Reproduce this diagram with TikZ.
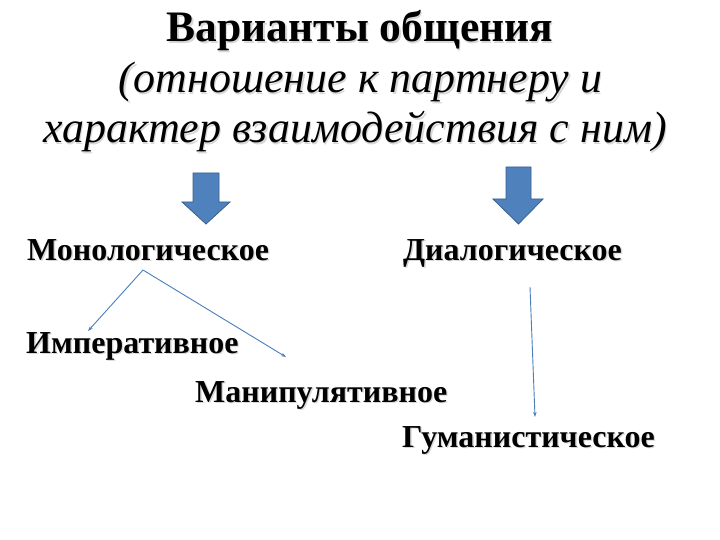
\documentclass[tikz,border=0pt]{standalone}
\usepackage{fontspec}
\setmainfont{Liberation Serif}[BoldFont={Liberation Serif Bold},ItalicFont={Liberation Serif Italic},BoldItalicFont={Liberation Serif Bold Italic}]
\usetikzlibrary{arrows.meta}
\definecolor{arrfill}{HTML}{4F81BD}
\definecolor{arrline}{HTML}{3A5F8B}
\definecolor{conn}{HTML}{4A7EBB}
\definecolor{shadowc}{HTML}{D8D8D8}
\tikzset{
  txt/.style={inner sep=0pt, anchor=base west, text=black},
  txtc/.style={inner sep=0pt, anchor=base, text=black},
  shd/.style={text=shadowc},
  blockarrow/.style={fill=arrfill, draw=arrline, line width=0.8pt, line join=miter},
  connector/.style={draw=conn, line width=0.9pt, -{Stealth[length=5pt,width=3.5pt]}},
}
\begin{document}
\begin{tikzpicture}[x=1pt,y=-1pt]
\useasboundingbox (0,0) rectangle (720,540);
% titles and labels (shadow first, then text)
\foreach \dx/\st/\nm in {1.3/shd/s,0/{}/n}{
  \node[txtc,\st,font=\fontsize{43.5}{50}\selectfont\bfseries] (t1\nm) at (360+\dx,42+\dx) {Варианты общения};
  \node[txtc,\st,font=\fontsize{44}{50}\selectfont\itshape] (t2\nm) at (360.5+\dx,93+\dx) {(отношение к партнеру и};
  \node[txtc,\st,font=\fontsize{44}{50}\selectfont\itshape] (t3\nm) at (355+\dx,143+\dx) {характер взаимодействия с ним)};
  \node[txt,\st,font=\fontsize{32}{38}\selectfont\bfseries] (mon\nm) at (27+\dx,260+\dx) {Монологическое};
  \node[txt,\st,font=\fontsize{32}{38}\selectfont\bfseries] (dia\nm) at (403+\dx,260+\dx) {Диалогическое};
  \node[txt,\st,font=\fontsize{32}{38}\selectfont\bfseries] (imp\nm) at (26+\dx,353+\dx) {Императивное};
  \node[txt,\st,font=\fontsize{32}{38}\selectfont\bfseries] (man\nm) at (195+\dx,402+\dx) {Манипулятивное};
  \node[txt,\st,font=\fontsize{32}{38}\selectfont\bfseries] (gum\nm) at (402+\dx,447+\dx) {Гуманистическое};
}
% block arrows
\draw[blockarrow] (193,173) -- (219,173) -- (219,202) -- (230,202) -- (206,224) -- (182,202) -- (193,202) -- cycle;
\draw[blockarrow] (506,167) -- (531,167) -- (531,199) -- (543,199) -- (518.5,224) -- (493,199) -- (506,199) -- cycle;
% connectors
\coordinate (apex) at (143,270);
\coordinate (impend) at (88,331);
\coordinate (manend) at (286,357);
\coordinate (diastart) at (530,287);
\coordinate (gumend) at (535,417);
\draw[connector] (apex) -- (impend);
\draw[connector] (apex) -- (manend);
\draw[connector] (diastart) -- (gumend);
\end{tikzpicture}
\end{document}
